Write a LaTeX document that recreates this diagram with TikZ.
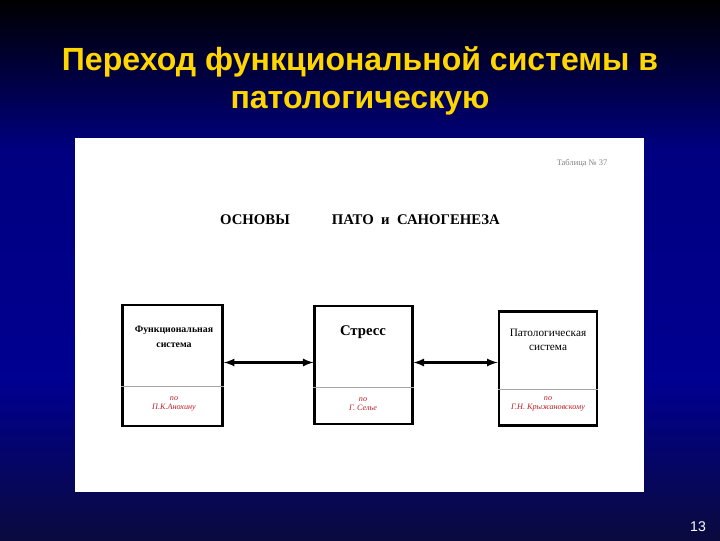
\documentclass[tikz,border=0pt]{standalone}
\usepackage{fontspec}
\setmainfont{Liberation Serif}
\newfontfamily\titlefont{Liberation Sans}
\usetikzlibrary{calc}
\definecolor{titleyellow}{RGB}{255,214,0}
\definecolor{deepblue}{RGB}{0,0,128}
\definecolor{brightblue}{RGB}{0,0,145}
\definecolor{navyblue}{RGB}{10,10,62}
\definecolor{authorred}{RGB}{190,30,40}
\tikzset{
  sysbox/.style={
    draw,
    line width=0.07cm,
    inner sep=0pt
  },
  boxtext/.style={
    font=\fontsize{7}{10.5}\selectfont\bfseries,
    align=center
  },
  authortext/.style={
    font=\fontsize{5.8}{6.5}\selectfont\itshape,
    text=authorred,
    align=center
  },
  link/.style={
    latex-latex,
    line width=0.055cm
  }
}

\begin{document}
\begin{tikzpicture}[x=0.025cm,y=-0.025cm]
  % background
  \shade[top color=black,bottom color=deepblue] (0,0) rectangle (720,150.5);
  \shade[top color=deepblue,bottom color=brightblue] (0,150) rectangle (720,380.5);
  \shade[top color=brightblue,bottom color=navyblue] (0,380) rectangle (720,540);
  \useasboundingbox (0,0) rectangle (720,540);
  \fill[white] (75,138) rectangle (644,492);
  % title
  \node[font=\titlefont\fontsize{22.8}{27.5}\selectfont\bfseries,text=titleyellow,align=center] (title) at (360,81)
    {Переход функциональной системы в\\патологическую};
  \node[font=\fontsize{6}{7}\selectfont,text=gray] (tab) at (582,163) {Таблица № 37};
  \node[font=\fontsize{10.5}{12}\selectfont\bfseries] (head) at (360,220)
    {ОСНОВЫ\hspace{1.05cm}ПАТО\enspace и\enspace САНОГЕНЕЗА};
  % boxes
  \node[sysbox,minimum width=2.5cm,minimum height=3.02cm] (a) at (172.5,365.5) {};
  \node[sysbox,minimum width=2.43cm,minimum height=2.95cm] (b) at (363.5,365) {};
  \node[sysbox,minimum width=2.45cm,minimum height=2.85cm] (c) at (548,368.5) {};
  \draw[gray!70,thin] (a.west|-0,386) -- (a.east|-0,386);
  \draw[gray!70,thin] (b.west|-0,387) -- (b.east|-0,387);
  \draw[gray!70,thin] (c.west|-0,389) -- (c.east|-0,389);
  \node[boxtext] (at) at (174,337) {Функциональная\\система};
  \node[boxtext,font=\fontsize{10.5}{12}\selectfont\bfseries] (bt) at (363,332) {Стресс};
  \node[boxtext,font=\fontsize{8}{9.5}\selectfont] (ct) at (548,340) {Патологическая\\система};
  \node[authortext] (aa) at (174,404) {по\\П.К.Анохину};
  \node[authortext] (ba) at (363,404) {по\\Г. Селье};
  \node[authortext] (ca) at (548,404) {по\\Г.Н. Крыжановскому};
  \draw[link] (a.east|-0,362.5) -- (b.west|-0,362.5);
  \draw[link] (b.east|-0,362.5) -- (c.west|-0,362.5);
  \node[font=\titlefont\fontsize{10}{12}\selectfont,text=white] (num) at (698,527) {13};
\end{tikzpicture}
\end{document}
